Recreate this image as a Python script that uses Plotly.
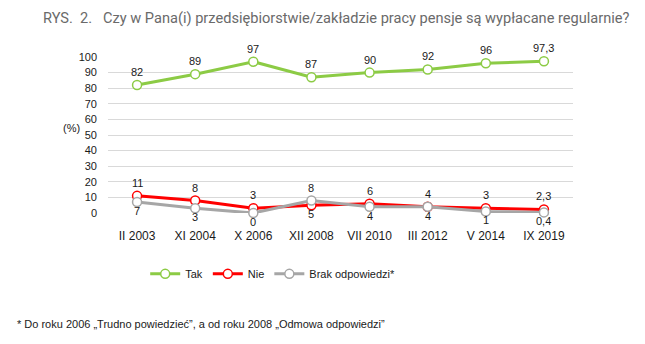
import plotly.graph_objects as go

categories = ["II 2003", "XI 2004", "X 2006", "XII 2008", "VII 2010", "III 2012", "V 2014", "IX 2019"]
tak = [82, 89, 97, 87, 90, 92, 96, 97.3]
nie = [11, 8, 3, 5, 6, 4, 3, 2.3]
brak = [7, 3, 0, 8, 4, 4, 1, 0.4]
y_ticks = list(range(0, 101, 10))

def fmt(v):
    return (f"{v:g}").replace(".", ",")

GREEN = "#8CCB45"
RED = "#FF0000"
GRAY = "#A6A6A6"
FONT = "Liberation Sans, Arial, sans-serif"
TXT = "#1a1a1a"

fig = go.Figure()

def add(name, vals, color):
    fig.add_trace(go.Scatter(
        x=categories, y=vals, name=name, mode="lines+markers",
        line=dict(color=color, width=3),
        marker=dict(symbol="circle", size=9, color="white", line=dict(color=color, width=1.5)),
        cliponaxis=False,
    ))

add("Tak", tak, GREEN)
add("Nie", nie, RED)
add("Brak odpowiedzi*", brak, GRAY)

# data labels: above for Tak and Nie, below for Brak (swapped where Brak > Nie)
def label(cat, val, above):
    fig.add_annotation(x=cat, y=val, xref="x", yref="y", text=fmt(val), showarrow=False,
                       yshift=(13 if above else -9), yanchor="middle",
                       font=dict(family=FONT, size=11, color=TXT))

for c, t in zip(categories, tak):
    label(c, t, True)
for c, n, b in zip(categories, nie, brak):
    label(c, n, n >= b)
    label(c, b, b > n)

fig.update_layout(
    width=645, height=344,
    margin=dict(l=108, r=72, t=57, b=131),
    paper_bgcolor="white", plot_bgcolor="white",
    font=dict(family=FONT, size=11, color=TXT),
    showlegend=True,
    legend=dict(orientation="h", x=0.08, xanchor="left", y=-0.39, yanchor="middle",
                font=dict(family=FONT, size=11, color=TXT), itemwidth=30,
                traceorder="normal", bgcolor="rgba(0,0,0,0)"),
    xaxis=dict(type="category", showgrid=False, zeroline=False, showline=False,
               ticks="", ticklabelstandoff=14,
               tickfont=dict(family=FONT, size=12, color=TXT),
               range=[-0.5, 7.5]),
    yaxis=dict(range=[0, 100], tickvals=y_ticks, showgrid=True, gridcolor="#D9D9D9",
               gridwidth=1.3, zeroline=False, showline=False, ticks="",
               ticklabelstandoff=10,
               tickfont=dict(family=FONT, size=11, color=TXT)),
)

def px(xp):
    return (xp - 108) / 465.0

def py(yp):
    return (213 - yp) / 156.0

fig.add_annotation(x=px(61), y=py(128), xref="paper", yref="paper", text="(%)",
                   showarrow=False, font=dict(family=FONT, size=11, color=TXT))
fig.add_annotation(x=px(41), y=py(18), xref="paper", yref="paper", xanchor="left", yanchor="middle",
                   text="RYS.\u00a0\u00a02.", showarrow=False,
                   font=dict(family="Roboto, sans-serif", size=14.6, color="#6A6A6A"))
fig.add_annotation(x=px(101), y=py(18), xref="paper", yref="paper", xanchor="left", yanchor="middle",
                   text="Czy w Pana(i) przedsiębiorstwie/zakładzie pracy pensje są wypłacane regularnie?",
                   showarrow=False,
                   font=dict(family="Roboto, sans-serif", size=14.6, color="#6A6A6A"))
fig.add_annotation(x=px(15), y=py(324), xref="paper", yref="paper", xanchor="left", yanchor="middle",
                   text="* Do roku 2006 „Trudno powiedzieć”, a od roku 2008 „Odmowa odpowiedzi”",
                   showarrow=False, font=dict(family=FONT, size=11, color=TXT))

fig.write_html("out.html")
